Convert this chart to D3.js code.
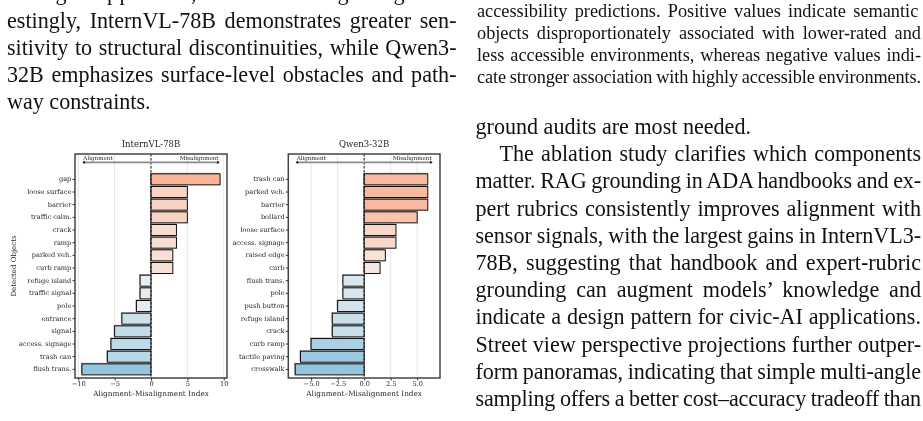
<!DOCTYPE html>
<html>
<head>
<meta charset="utf-8">
<script src="https://cdn.jsdelivr.net/npm/d3@7"></script>
<style>
  body { margin: 0; background: #fff; }
  svg { display: block; will-change: transform; }
  .prose { font-family: "Liberation Serif", "Times New Roman", serif; fill: #111; white-space: pre; }
  .chart text { font-family: "DejaVu Serif", serif; fill: #1e1e1e; }
</style>
</head>
<body>
<svg id="page" width="923" height="421"></svg>
<script>
// chart data
const internLabels = ["gap", "loose surface", "barrier", "traffic calm.", "crack", "ramp", "parked veh.", "curb ramp",
  "refuge island", "traffic signal", "pole", "entrance", "signal", "access. signage", "trash can", "flush trans."];
const internValues = [9.5, 5, 5, 5, 3.5, 3.5, 3, 3, -1.5, -1.5, -2, -4, -5, -5.5, -6, -9.5];
const qwenLabels = ["trash can", "parked veh.", "barrier", "bollard", "loose surface", "access. signage", "raised edge", "curb",
  "flush trans.", "pole", "push button", "refuge island", "crack", "curb ramp", "tactile paving", "crosswalk"];
const qwenValues = [6, 6, 6, 5, 3, 3, 2, 1.5, -2, -2, -2.5, -3, -3, -5, -6, -6.5];
const internTicks = [-10, -5, 0, 5, 10];
const qwenTicks = [-5, -2.5, 0, 2.5, 5];

// surrounding page text
const leftLines = [
  "Among the top predictors, the semantic rankings diverge. Inter-",
  "estingly, InternVL-78B demonstrates greater sen-",
  "sitivity to structural discontinuities, while Qwen3-",
  "32B emphasizes surface-level obstacles and path-",
  "way constraints."
];
const captionLines = [
  "Figure 3: Alignment–Misalignment Index of detected objects in",
  "accessibility predictions.  Positive values indicate semantic",
  "objects disproportionately associated with lower-rated and",
  "less accessible environments, whereas negative values indi-",
  "cate stronger association with highly accessible environments."
];
const rightLines = [
  "ground audits are most needed.",
  "The ablation study clarifies which components",
  "matter. RAG grounding in ADA handbooks and ex-",
  "pert rubrics consistently improves alignment with",
  "sensor signals, with the largest gains in InternVL3-",
  "78B, suggesting that handbook and expert-rubric",
  "grounding can augment models’ knowledge and",
  "indicate a design pattern for civic-AI applications.",
  "Street view perspective projections further outper-",
  "form panoramas, indicating that simple multi-angle",
  "sampling offers a better cost–accuracy tradeoff than"
];

const svg = d3.select('#page');

// justified lines: stretch spaces; when a line is too long, shrink spaces a little and tighten letters
function drawLines(lines, o) {
  const g = svg.append('g').attr('class', 'prose').style('font-size', o.size + 'px');
  lines.forEach((s, i) => {
    const indent = (o.indent && o.indent.includes(i)) ? o.indentSize : 0;
    const t = g.append('text')
      .attr('x', o.x0 + indent)
      .attr('y', o.y0 + i * o.lead)
      .text(s);
    if (!(o.ragged && o.ragged.includes(i))) {
      const target = o.x1 - o.x0 - indent;
      const w = t.node().getComputedTextLength();
      const n = (s.match(/ /g) || []).length;
      const extra = target - w;
      if (n > 0 && extra >= -0.6 * n) {
        t.style('word-spacing', extra / n + 'px');
      } else {
        t.style('word-spacing', '-0.6px')
          .style('letter-spacing', (extra + 0.6 * n) / s.length + 'px');
      }
    }
  });
}

drawLines(leftLines, { x0: 7, x1: 456.5, y0: 0.3, lead: 27.2, size: 22.1, ragged: [4] });
drawLines(captionLines, { x0: 477, x1: 921, y0: -5.5, lead: 22, size: 18.3 });
drawLines(rightLines, { x0: 475.5, x1: 921, y0: 134, lead: 27.2, size: 22.1, ragged: [0], indent: [1], indentSize: 24 });

const plotTop = 154, plotBottom = 378;

function drawChart(title, labels, values, ticks, fmt, left, right, yLabel) {
  const data = labels.map((l, i) => ({ label: l, value: values[i] }));
  const maxAbs = d3.max(values, v => Math.abs(v));
  const lim = maxAbs * 1.1;

  const x = d3.scaleLinear().domain([-lim, lim]).range([left, right]);
  const y = d3.scaleBand().domain(labels).range([173, 375.7]).paddingInner(0.13).paddingOuter(0.065);
  const color = d3.scaleLinear().domain([-maxAbs, 0, maxAbs]).range(['#94c5df', '#f7f5f4', '#f9b497']);

  const g = svg.append('g').attr('class', 'chart');

  g.append('text')
    .attr('x', (left + right) / 2).attr('y', 147)
    .attr('text-anchor', 'middle')
    .style('font-size', '8.5px')
    .text(title);

  // grid
  g.selectAll('line.grid').data(ticks.filter(t => t !== 0)).join('line')
    .attr('class', 'grid')
    .attr('x1', d => x(d)).attr('x2', d => x(d))
    .attr('y1', plotTop).attr('y2', plotBottom)
    .attr('stroke', '#e3e3e3').attr('stroke-width', 0.9);

  // bar shadows and bars
  g.selectAll('rect.shadow').data(data).join('rect')
    .attr('class', 'shadow')
    .attr('x', d => x(Math.min(0, d.value)) - 1)
    .attr('y', d => y(d.label) - 1)
    .attr('width', d => Math.abs(x(d.value) - x(0)))
    .attr('height', y.bandwidth())
    .attr('fill', '#808080').attr('opacity', 0.7);

  g.selectAll('rect.bar').data(data).join('rect')
    .attr('class', 'bar')
    .attr('x', d => x(Math.min(0, d.value)))
    .attr('y', d => y(d.label))
    .attr('width', d => Math.abs(x(d.value) - x(0)))
    .attr('height', y.bandwidth())
    .attr('fill', d => color(d.value))
    .attr('stroke', '#111').attr('stroke-width', 1);

  // zero line
  g.append('line')
    .attr('x1', x(0)).attr('x2', x(0))
    .attr('y1', plotTop).attr('y2', plotBottom)
    .attr('stroke', '#111').attr('stroke-width', 1)
    .attr('stroke-dasharray', '2.6,1.4');

  // alignment arrow
  const ay = 162.3;
  const a0 = x(-0.89 * lim), a1 = x(0.89 * lim);
  g.append('line')
    .attr('x1', a0).attr('x2', a1).attr('y1', ay).attr('y2', ay)
    .attr('stroke', '#8a8a8a').attr('stroke-width', 1.8);
  g.append('path')
    .attr('d', `M${a0 - 1},${ay} l2.5,-1.6 v3.2 Z M${a1 + 1},${ay} l-2.5,-1.6 v3.2 Z`)
    .attr('fill', '#111');
  g.append('text').attr('x', a0).attr('y', 160.3)
    .style('font-size', '5.6px').text('Alignment');
  g.append('text').attr('x', a1).attr('y', 160.3)
    .attr('text-anchor', 'end')
    .style('font-size', '5.6px').text('Misalignment');

  // frame
  g.append('rect')
    .attr('x', left).attr('y', plotTop)
    .attr('width', right - left).attr('height', plotBottom - plotTop)
    .attr('fill', 'none').attr('stroke', '#444').attr('stroke-width', 1.5);

  // axes
  const yAxisG = g.append('g')
    .attr('transform', `translate(${left},0)`)
    .call(d3.axisLeft(y).tickSize(2.5).tickPadding(1.2));
  yAxisG.select('.domain').remove();
  yAxisG.selectAll('text').style('font-size', '6.6px');
  yAxisG.selectAll('line').attr('stroke', '#333');

  const xAxisG = g.append('g')
    .attr('transform', `translate(0,${plotBottom})`)
    .call(d3.axisBottom(x).tickValues(ticks).tickFormat(d3.format(fmt)).tickSize(2.5).tickPadding(1.2));
  xAxisG.select('.domain').remove();
  xAxisG.selectAll('text').style('font-size', '6.6px');
  xAxisG.selectAll('line').attr('stroke', '#333');

  g.append('text')
    .attr('x', x(0)).attr('y', 395.5)
    .attr('text-anchor', 'middle')
    .style('font-size', '7.3px')
    .text('Alignment–Misalignment Index');

  if (yLabel) {
    g.append('text')
      .attr('transform', `translate(16,${(plotTop + plotBottom) / 2}) rotate(-90)`)
      .attr('text-anchor', 'middle')
      .style('font-size', '7px')
      .text(yLabel);
  }
}

drawChart('InternVL-78B', internLabels, internValues, internTicks, 'd', 75, 227, 'Detected Objects');
drawChart('Qwen3-32B', qwenLabels, qwenValues, qwenTicks, '.1f', 288.3, 440, null);
</script>
</body>
</html>
